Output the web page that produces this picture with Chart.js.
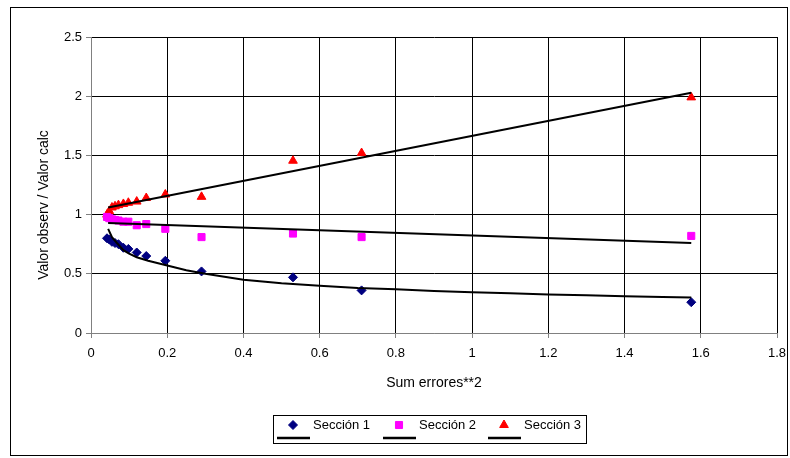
<!DOCTYPE html>
<html>
<head>
<meta charset="utf-8">
<script src="https://cdn.jsdelivr.net/npm/chart.js@4.4.1/dist/chart.umd.min.js"></script>
<style>
  body { margin: 0; background: #fff; }
  #wrap { width: 790px; height: 458px; }
</style>
</head>
<body>
<div id="wrap"><canvas id="chart" width="790" height="458"></canvas></div>
<script>
// values
const sumErrores = [0.042, 0.048, 0.055, 0.063, 0.072, 0.085, 0.098, 0.12, 0.145, 0.195, 0.29, 0.53, 0.71, 1.575];
const seccion1 = [0.80, 0.79, 0.77, 0.76, 0.75, 0.72, 0.71, 0.68, 0.65, 0.61, 0.52, 0.47, 0.36, 0.26];
const seccion2 = [0.98, 0.97, 0.96, 0.955, 0.95, 0.94, 0.94, 0.91, 0.92, 0.88, 0.81, 0.84, 0.81, 0.82];
const seccion3 = [1.00, 1.03, 1.06, 1.07, 1.08, 1.09, 1.10, 1.11, 1.14, 1.17, 1.15, 1.455, 1.52, 1.99];

// trend lines
const trend1X = [0.045, 0.055, 0.068, 0.085, 0.1, 0.12, 0.15, 0.2, 0.25, 0.3, 0.4, 0.5, 0.6, 0.7, 0.8, 0.9, 1.0, 1.1, 1.2, 1.3, 1.4, 1.5, 1.575];
const trend1Y = [0.88, 0.81, 0.76, 0.70, 0.67, 0.64, 0.61, 0.57, 0.53, 0.50, 0.45, 0.42, 0.40, 0.38, 0.37, 0.355, 0.345, 0.335, 0.325, 0.318, 0.31, 0.305, 0.30];
const trend2X = [0.045, 1.575];
const trend2Y = [0.93, 0.76];
const trend3X = [0.045, 1.575];
const trend3Y = [1.06, 2.03];

const seriesNames = ['Sección 1', 'Sección 2', 'Sección 3'];
const xTickValues = [0, 0.2, 0.4, 0.6, 0.8, 1, 1.2, 1.4, 1.6, 1.8];
const xTickLabels = ['0', '0.2', '0.4', '0.6', '0.8', '1', '1.2', '1.4', '1.6', '1.8'];
const yTickValues = [0, 0.5, 1, 1.5, 2, 2.5];
const yTickLabels = ['0', '0.5', '1', '1.5', '2', '2.5'];
const xTitle = 'Sum errores**2';
const yTitle = 'Valor observ / Valor calc';

const pts = (xs, ys) => xs.map((x, i) => ({ x: x, y: ys[i] }));
const FONT = 'Liberation Sans, Arial, sans-serif';

const markerStyles = [
  { color: '#000080', style: 'rectRot', radius: 4.5 },
  { color: '#FF00FF', style: 'rect', radius: 5 },
  { color: '#FF0000', style: 'triangle', radius: 5 }
];

function trendSet(xs, ys) {
  return {
    type: 'line', data: pts(xs, ys), showLine: true, borderColor: '#000',
    borderWidth: 2, pointRadius: 0, fill: false, tension: 0
  };
}
function pointSet(i, ys) {
  const m = markerStyles[i];
  return {
    label: seriesNames[i], data: pts(sumErrores, ys),
    backgroundColor: m.color, borderColor: m.color, borderWidth: 1,
    pointStyle: m.style, pointRadius: m.radius, showLine: false
  };
}

function drawMarker(ctx, style, x, y, r) {
  ctx.beginPath();
  if (style === 'rectRot') {
    ctx.moveTo(x, y - r); ctx.lineTo(x + r, y); ctx.lineTo(x, y + r); ctx.lineTo(x - r, y);
  } else if (style === 'rect') {
    const s = r * Math.SQRT1_2;
    ctx.rect(x - s, y - s, 2 * s, 2 * s);
  } else {
    ctx.moveTo(x, y - r);
    ctx.lineTo(x + r * 0.866, y + r / 2);
    ctx.lineTo(x - r * 0.866, y + r / 2);
  }
  ctx.closePath();
  ctx.fill();
  ctx.stroke();
}

// outer frame, y title and legend box
const framePlugin = {
  id: 'frame',
  beforeDraw(chart) {
    const ctx = chart.ctx;
    ctx.save();
    ctx.fillStyle = '#fff';
    ctx.fillRect(0, 0, chart.width, chart.height);
    ctx.strokeStyle = '#000';
    ctx.lineWidth = 1;
    ctx.strokeRect(10.5, 7.5, 777, 448);
    ctx.restore();
  },
  afterDraw(chart) {
    const ctx = chart.ctx;
    ctx.save();
    // y axis title, centred a little below the plot middle as in the original
    ctx.translate(44, 205);
    ctx.rotate(-Math.PI / 2);
    ctx.font = '14px ' + FONT;
    ctx.fillStyle = '#000';
    ctx.textAlign = 'center';
    ctx.textBaseline = 'middle';
    ctx.fillText(yTitle, 0, 0);
    ctx.restore();

    ctx.save();
    ctx.strokeStyle = '#000';
    ctx.lineWidth = 1;
    ctx.strokeRect(273.5, 415.5, 313, 28);
    const entryX = [277, 383, 488];
    ctx.font = '13px ' + FONT;
    ctx.textBaseline = 'middle';
    entryX.forEach((x0, i) => {
      const m = markerStyles[i];
      ctx.fillStyle = m.color;
      ctx.strokeStyle = m.color;
      drawMarker(ctx, m.style, x0 + 16, 425, m.radius);
      ctx.strokeStyle = '#000';
      ctx.lineWidth = 2.5;
      ctx.beginPath();
      ctx.moveTo(x0, 438);
      ctx.lineTo(x0 + 33, 438);
      ctx.stroke();
      ctx.lineWidth = 1;
      ctx.fillStyle = '#000';
      ctx.fillText(seriesNames[i], x0 + 36, 425);
    });
    ctx.restore();
  }
};

const gridColor = c => (c.tick && c.tick.value === 0 ? '#808080' : '#000000');

new Chart(document.getElementById('chart'), {
  type: 'scatter',
  data: {
    datasets: [
      trendSet(trend1X, trend1Y),
      trendSet(trend2X, trend2Y),
      trendSet(trend3X, trend3Y),
      pointSet(0, seccion1),
      pointSet(1, seccion2),
      pointSet(2, seccion3)
    ]
  },
  options: {
    responsive: false,
    animation: false,
    layout: { padding: { left: 10, right: 13, top: 37, bottom: 58 } },
    plugins: { legend: { display: false }, tooltip: { enabled: false } },
    scales: {
      x: {
        type: 'linear', min: 0, max: 1.8,
        afterBuildTicks: s => { s.ticks = xTickValues.map(v => ({ value: v })); },
        afterFit: s => { s.height = 67; s.paddingLeft = 0; s.paddingRight = 0; },
        ticks: {
          color: '#000', font: { family: FONT, size: 13 }, padding: 8,
          maxRotation: 0, autoSkip: false,
          callback: (v, i) => xTickLabels[i]
        },
        grid: { color: gridColor, lineWidth: 1, tickLength: 5, tickColor: '#808080' },
        border: { color: '#808080' },
        title: {
          display: true, text: xTitle, color: '#000',
          font: { family: FONT, size: 14 }, padding: { top: 0, bottom: 8 }
        }
      },
      y: {
        type: 'linear', min: 0, max: 2.5,
        afterBuildTicks: s => { s.ticks = yTickValues.map(v => ({ value: v })); },
        afterFit: s => { s.width = 81; s.paddingTop = 0; s.paddingBottom = 0; },
        ticks: {
          color: '#000', font: { family: FONT, size: 13 }, padding: 4,
          callback: (v, i) => yTickLabels[i]
        },
        grid: { color: gridColor, lineWidth: 1, tickLength: 5, tickColor: '#808080' },
        border: { color: '#808080' },
        title: { display: false }
      }
    }
  },
  plugins: [framePlugin]
});
</script>
</body>
</html>
